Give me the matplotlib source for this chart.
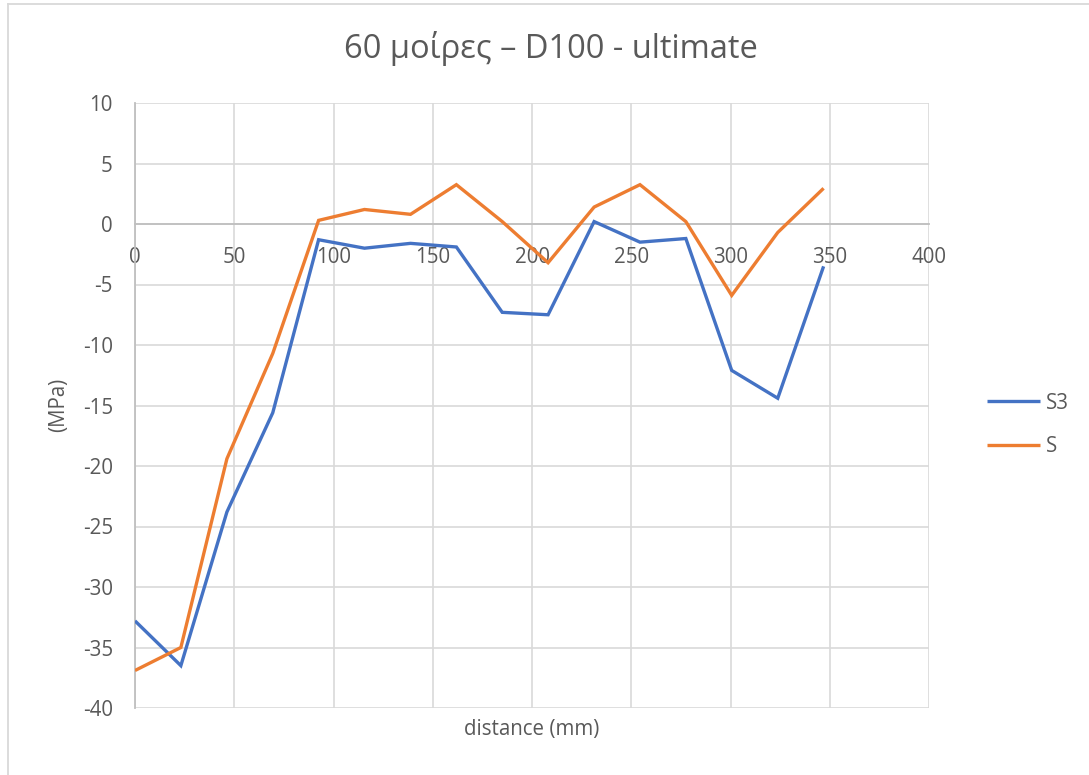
import matplotlib
matplotlib.use("Agg")
import matplotlib.pyplot as plt
from matplotlib.lines import Line2D

# Measurement stations along the member (mm)
distance = [0, 23.1, 46.3, 69.4, 92.5, 115.6, 138.8, 161.9,
            185.0, 208.1, 231.3, 254.4, 277.5, 300.6, 323.8, 346.9]

# Stress values (MPa)
s3 = [-32.8, -36.5, -23.8, -15.6, -1.3, -2.0, -1.6, -1.9,
      -7.3, -7.5, 0.2, -1.5, -1.2, -12.1, -14.4, -3.5]
s = [-36.9, -35.0, -19.4, -10.7, 0.3, 1.2, 0.8, 3.25,
     0.2, -3.2, 1.4, 3.25, 0.2, -5.9, -0.7, 2.95]

series_names = ["S3", "S"]
series_colors = ["#4472C4", "#ED7D31"]

x_ticks = [0, 50, 100, 150, 200, 250, 300, 350, 400]
y_ticks = [10, 5, 0, -5, -10, -15, -20, -25, -30, -35, -40]

W, H = 1089, 775
plt.rcParams["font.family"] = ["Open Sans", "DejaVu Sans"]
text_color = "#595959"
grid_color = "#d9d9d9"
axis_color = "#bfbfbf"

fig = plt.figure(figsize=(W / 100, H / 100), dpi=100)
ax = fig.add_axes([135 / W, 1 - 708 / H, (929 - 135) / W, (708 - 103) / H])

for values, name, color in zip([s3, s], series_names, series_colors):
    ax.plot(distance, values, color=color, lw=2.4, label=name,
            solid_joinstyle="miter", solid_capstyle="butt", zorder=3)

ax.set_xlim(0, 400)
ax.set_ylim(-40, 10)
ax.set_xticks(x_ticks)
ax.set_yticks(y_ticks)
ax.set_xticklabels([str(t) for t in x_ticks])
ax.set_yticklabels([str(t) for t in y_ticks])

ax.grid(True, color=grid_color, lw=1.2, zorder=0)
ax.set_axisbelow(True)

for side in ["top", "right"]:
    ax.spines[side].set_visible(False)
ax.spines["bottom"].set_position(("data", 0))
ax.spines["bottom"].set_color(axis_color)
ax.spines["bottom"].set_linewidth(1.3)
ax.spines["left"].set_color(axis_color)
ax.spines["left"].set_linewidth(1.3)

ax.tick_params(axis="both", length=0, labelsize=14.8, colors=text_color)
ax.tick_params(axis="x", pad=16.5)
ax.tick_params(axis="y", pad=16)

fig.text(59 / W, 1 - 405 / H, "(MPa)", rotation=90, ha="center", va="center",
         fontsize=14.8, color=text_color)
fig.text(532 / W, 1 - 730 / H, "distance (mm)", ha="center", va="center",
         fontsize=14.8, color=text_color)
fig.text(551 / W, 1 - 48 / H, "60 μοίρες – D100 - ultimate", ha="center",
         va="center", fontsize=23.5, color=text_color)

leg = ax.legend(loc="center left", bbox_to_anchor=(987 / W, 1 - 425 / H),
                bbox_transform=fig.transFigure, frameon=False,
                fontsize=14.8, handlelength=2.6, handletextpad=0.25,
                labelspacing=1.1, borderpad=0, borderaxespad=0)
for t in leg.get_texts():
    t.set_color(text_color)

# chart area frame
fig.add_artist(Line2D([8 / W, 8 / W], [0, 1 - 4 / H], color=grid_color, lw=1.3,
                      transform=fig.transFigure))
fig.add_artist(Line2D([8 / W, 1], [1 - 4 / H, 1 - 4 / H], color=grid_color, lw=1.3,
                      transform=fig.transFigure))

fig.savefig("out.png", dpi=100, facecolor="white")
